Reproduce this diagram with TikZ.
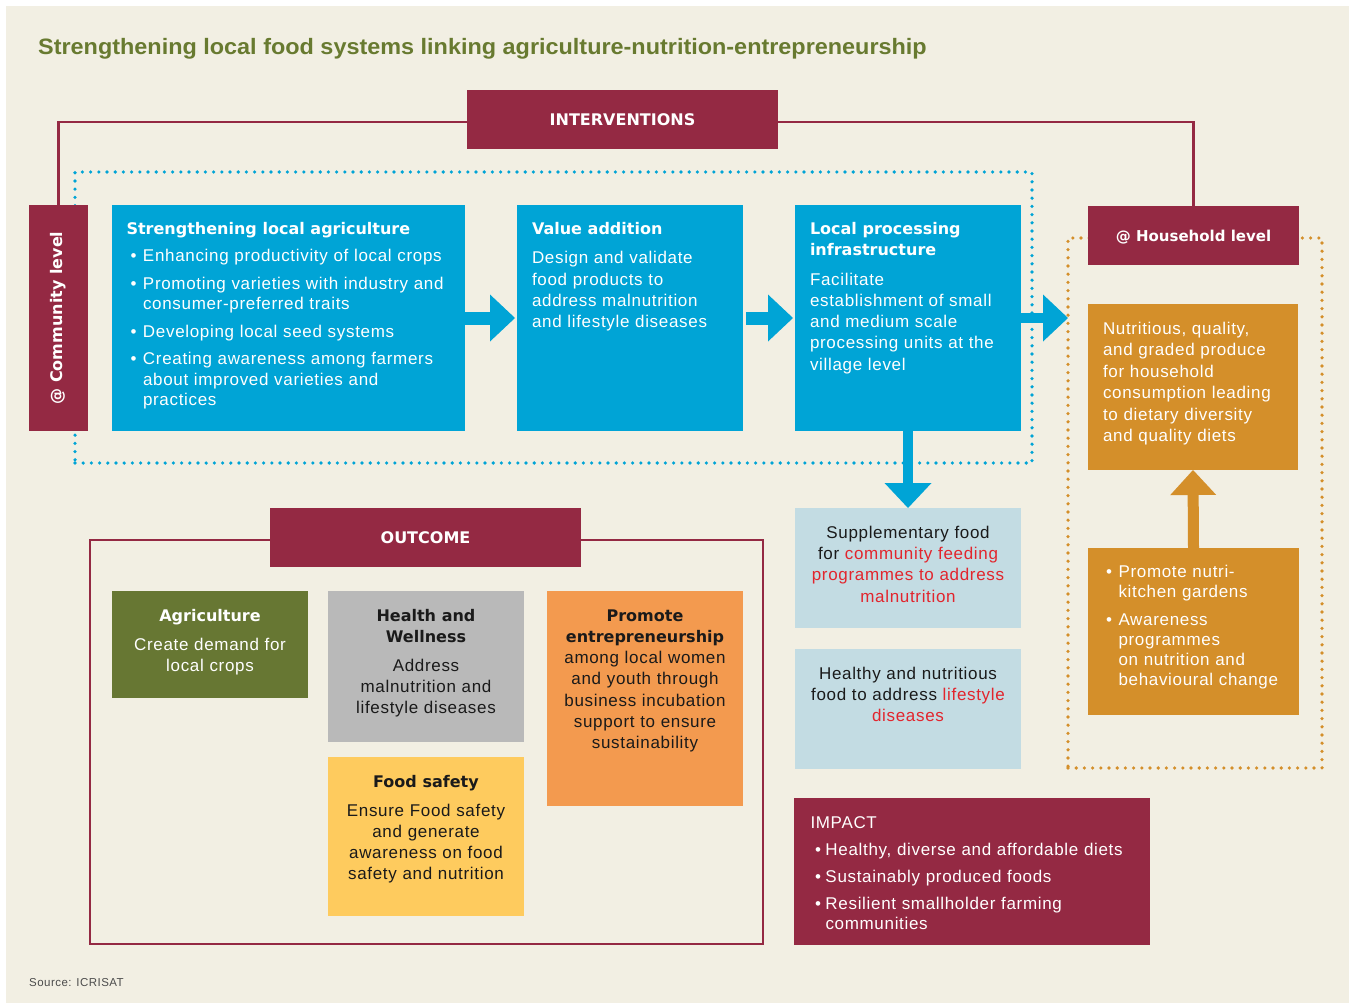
\documentclass[tikz,border=0pt]{standalone}
\usepackage{fontspec}
\usetikzlibrary{arrows.meta}
\setmainfont{Liberation Sans}[LetterSpace=4]
\newfontfamily\hfont{DejaVu Sans}
\newfontfamily\tfont{Liberation Sans}[FakeStretch=1.05]
\newcommand\hd{\hfont\bfseries}
\newcommand\hdd{\hfont\bfseries\fontsize{16}{21.3}\selectfont}
\definecolor{bg}{HTML}{F2EFE3}
\definecolor{maroon}{HTML}{942943}
\definecolor{cblue}{HTML}{00A4D6}
\definecolor{lblue}{HTML}{C3DCE3}
\definecolor{horange}{HTML}{D48F2A}
\definecolor{olive}{HTML}{677733}
\definecolor{cgray}{HTML}{B9B9B9}
\definecolor{eorange}{HTML}{F39A4F}
\definecolor{cyellow}{HTML}{FECB5E}
\definecolor{rtx}{HTML}{E2252D}
\definecolor{tgreen}{HTML}{687A30}
\definecolor{dtx}{HTML}{1A1A1A}
\newlength\bind \newlength\boff \newlength\bgap
\newcommand\bstart{\hangindent=\bind\hangafter=1\noindent\hspace*{\boff}\makebox[\dimexpr\bind-\boff\relax][l]{\textbullet}}
\newcommand\bitem{\par\vspace{\bgap}\bstart}
\newcommand\rt[1]{\textcolor{rtx}{#1}}
\begin{document}
\begin{tikzpicture}[x=1pt,y=-1pt,
  blk/.style={inner sep=0pt, outer sep=0pt, anchor=north west, draw=none},
  txt/.style={inner sep=0pt, outer sep=0pt, anchor=base west, align=left, font=\fontsize{17}{21.3}\selectfont},
  ctxt/.style={inner sep=0pt, outer sep=0pt, anchor=base, align=center, font=\fontsize{17}{21.3}\selectfont},
  lbl/.style={text=white, font=\hd\fontsize{16}{19}\selectfont},
  bdots/.style={draw=cblue, line width=3.6pt, line cap=round, dash pattern=on 0pt off 8.2pt},
  odots/.style={draw=horange, line width=3.6pt, line cap=round, dash pattern=on 0pt off 8.2pt},
  mline/.style={draw=maroon, line width=2.6pt},
  barrow/.style={draw=cblue, -{Triangle[width=47pt,length=25pt,line width=0pt]}},
  oarrow/.style={draw=horange, -{Triangle[width=46pt,length=25pt,line width=0pt]}}
]
\useasboundingbox (0,0) rectangle (1349,1003);
\fill[white] (0,0) rectangle (1349,1003);
\fill[bg] (6,6) rectangle (1349,1003);

% title and source
\node[inner sep=0pt, anchor=base west, text=tgreen, font=\tfont\bfseries\fontsize{22.3}{26}\selectfont] (title) at (38,55)
  {Strengthening local food systems linking agriculture-nutrition-entrepreneurship};
\node[inner sep=0pt, anchor=base west, text=black!70, font=\fontsize{11.5}{14}\selectfont] (src) at (29,986) {Source: ICRISAT};

% frames
\node[blk, bdots, minimum width=957pt, minimum height=291pt] (ifr) at (75,172) {};
\node[blk, odots, minimum width=254pt, minimum height=530pt] (hfr) at (1068,238) {};
\node[blk, draw=maroon, line width=2.6pt, minimum width=673pt, minimum height=404pt] (ofr) at (90,540) {};

% maroon labels
\node[blk, fill=maroon, minimum width=311pt, minimum height=59pt, lbl] (interv) at (467,90) {INTERVENTIONS};
\node[inner sep=0pt, outer sep=0pt, fill=maroon, rotate=90, minimum width=226pt, minimum height=59pt, lbl] (comm) at (58.5,318) {@ Community level};
\node[blk, fill=maroon, minimum width=211pt, minimum height=59pt, lbl, font=\hd\fontsize{15}{18}\selectfont, text depth=0pt] (hh) at (1088,206) {@ Household level};
\node[blk, fill=maroon, minimum width=311pt, minimum height=59pt, lbl] (outc) at (270,508) {OUTCOME};

\draw[mline] ([yshift=-2.5pt]interv.west) -| (comm.east);
\draw[mline] ([yshift=-2.5pt]interv.east) -| (hh.north);

% intervention boxes
\node[blk, fill=cblue, minimum width=353pt, minimum height=226pt] (b1) at (112,205) {};
\node[blk, fill=cblue, minimum width=226pt, minimum height=226pt] (b2) at (517,205) {};
\node[blk, fill=cblue, minimum width=226pt, minimum height=226pt] (b3) at (795,205) {};

% household boxes
\node[blk, fill=horange, minimum width=210pt, minimum height=166pt] (hb1) at (1088,304) {};
\node[blk, fill=horange, minimum width=211pt, minimum height=167pt] (hb2) at (1088,548) {};

% light blue boxes
\node[blk, fill=lblue, minimum width=226pt, minimum height=120pt] (sup) at (795,508) {};
\node[blk, fill=lblue, minimum width=226pt, minimum height=120pt] (hea) at (795,649) {};

% impact
\node[blk, fill=maroon, minimum width=356pt, minimum height=147pt] (imp) at (794,798) {};

% outcome boxes
\node[blk, fill=olive, minimum width=196pt, minimum height=107pt] (agr) at (112,591) {};
\node[blk, fill=cgray, minimum width=196pt, minimum height=151pt] (hw) at (328,591) {};
\node[blk, fill=eorange, minimum width=196pt, minimum height=215pt] (ent) at (547,591) {};
\node[blk, fill=cyellow, minimum width=196pt, minimum height=159pt] (fs) at (328,757) {};

% arrows
\draw[barrow, line width=13pt, shorten >=2pt] (b1.east) -- (b2.west);
\draw[barrow, line width=13pt, shorten <=3pt, shorten >=2pt] (b2.east) -- (b3.west);
\draw[barrow, line width=10pt] (b3.east) -- (b3.east -| hfr.west);
\draw[barrow, line width=10pt] (b3.south) -- (sup.north);
\draw[oarrow, line width=11pt] (hb2.north) -- (hb1.south);

% texts
\node[txt, text=white, text width=340pt, font=\fontsize{17}{20.5}\selectfont] (b1t) at (126.5,234) {%
  \setlength\bind{16.5pt}\setlength\boff{4pt}\setlength\bgap{7pt}%
  {\hdd Strengthening local agriculture}
  \bitem Enhancing productivity of local crops
  \bitem Promoting varieties with industry and\newline consumer-preferred traits
  \bitem Developing local seed systems
  \bitem Creating awareness among farmers\newline about improved varieties and\newline practices\par};
\node[txt, text=white, text width=215pt] (b2t) at (532,234) {%
  {\hdd Value addition}\par\vspace{8.5pt}
  Design and validate\\food products to\\address malnutrition\\and lifestyle diseases};
\node[txt, text=white, text width=215pt] (b3t) at (810,234) {%
  {\hdd Local processing\\infrastructure}\par\vspace{8.5pt}
  Facilitate\\establishment of small\\and medium scale\\processing units at the\\village level};
\node[txt, text=white, text width=200pt, font=\fontsize{17}{21.5}\selectfont] (hb1t) at (1103,334) {%
  Nutritious, quality,\\and graded produce\\for household\\consumption leading\\to dietary diversity\\and quality diets};
\node[txt, text=white, text width=200pt, font=\fontsize{17}{20}\selectfont] (hb2t) at (1106,577.7) {%
  \setlength\bind{12.5pt}\setlength\boff{0pt}\setlength\bgap{8pt}%
  \bstart Promote nutri-\newline kitchen gardens
  \bitem Awareness\newline programmes\newline on nutrition and\newline behavioural change\par};
\node[ctxt, text=dtx, text width=220pt] (supt) at (908,538.3) {%
  Supplementary food\\for \rt{community feeding}\\\rt{programmes to address}\\\rt{malnutrition}};
\node[ctxt, text=dtx, text width=220pt] (heat) at (908,679) {%
  Healthy and nutritious\\food to address \rt{lifestyle}\\\rt{diseases}};
\node[txt, text=white, text width=340pt, font=\fontsize{17}{20}\selectfont] (impt) at (810.5,828.3) {%
  \setlength\bind{15pt}\setlength\boff{4.5pt}\setlength\bgap{7pt}%
  IMPACT
  \bitem Healthy, diverse and affordable diets
  \bitem Sustainably produced foods
  \bitem Resilient smallholder farming\newline communities\par};
\node[ctxt, text=white, text width=190pt] (agrt) at (210,621) {%
  {\hdd Agriculture}\par\vspace{7.7pt}
  Create demand for\\local crops};
\node[ctxt, text=dtx, text width=190pt] (hwt) at (426,621) {%
  {\hdd Health and\\Wellness}\par\vspace{7.7pt}
  Address\\malnutrition and\\lifestyle diseases};
\node[ctxt, text=dtx, text width=190pt] (entt) at (645,621) {%
  {\hdd Promote\\entrepreneurship}\\
  among local women\\and youth through\\business incubation\\support to ensure\\sustainability};
\node[ctxt, text=dtx, text width=190pt] (fst) at (426,787) {%
  {\hdd Food safety}\par\vspace{7.7pt}
  Ensure Food safety\\and generate\\awareness on food\\safety and nutrition};
\end{tikzpicture}
\end{document}
